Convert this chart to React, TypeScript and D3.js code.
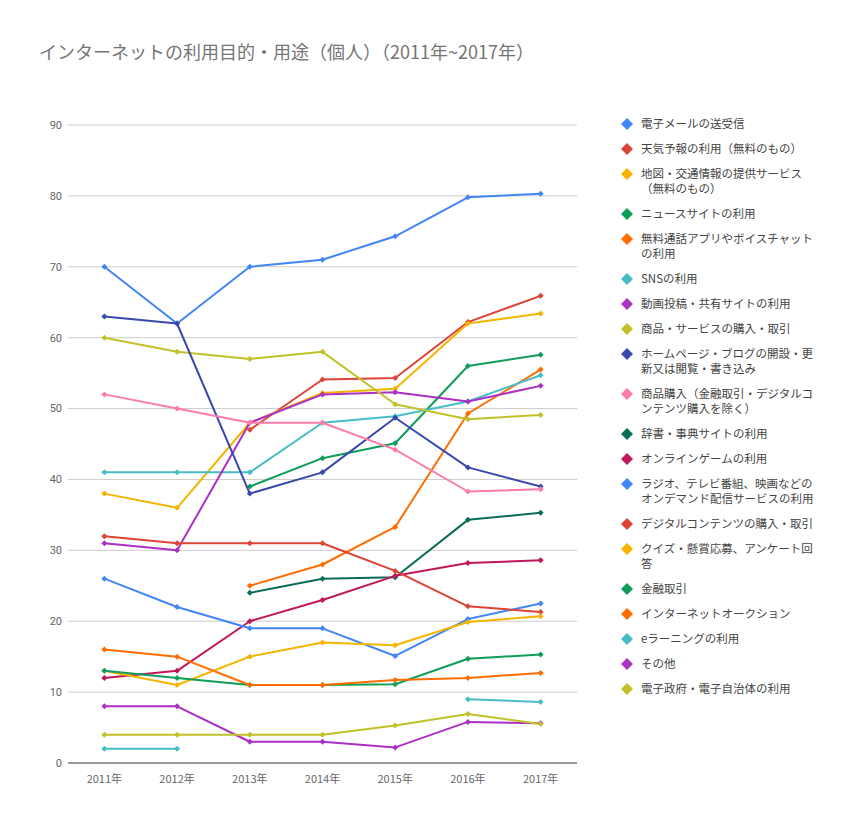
import React from "react";
import * as d3 from "d3";

const years = ["2011年", "2012年", "2013年", "2014年", "2015年", "2016年", "2017年"];
const yTicks = [0, 10, 20, 30, 40, 50, 60, 70, 80, 90];
const title = "インターネットの利用目的・用途（個人）（2011年~2017年）";

const seriesNames = [
  "電子メールの送受信",
  "天気予報の利用（無料のもの）",
  "地図・交通情報の提供サービス\n（無料のもの）",
  "ニュースサイトの利用",
  "無料通話アプリやボイスチャット\nの利用",
  "SNSの利用",
  "動画投稿・共有サイトの利用",
  "商品・サービスの購入・取引",
  "ホームページ・ブログの開設・更\n新又は閲覧・書き込み",
  "商品購入（金融取引・デジタルコ\nンテンツ購入を除く）",
  "辞書・事典サイトの利用",
  "オンラインゲームの利用",
  "ラジオ、テレビ番組、映画などの\nオンデマンド配信サービスの利用",
  "デジタルコンテンツの購入・取引",
  "クイズ・懸賞応募、アンケート回\n答",
  "金融取引",
  "インターネットオークション",
  "eラーニングの利用",
  "その他",
  "電子政府・電子自治体の利用",
];

const email = [70, 62, 70, 71, 74.3, 79.8, 80.3];
const weather = [null, null, 47, 54.1, 54.3, 62.2, 65.9];
const maps = [38, 36, 48, 52.2, 52.8, 62.0, 63.4];
const news = [null, null, 39, 43, 45.1, 56, 57.6];
const voip = [null, null, 25, 28, 33.3, 49.3, 55.5];
const sns = [41, 41, 41, 48, 48.9, 51, 54.7];
const video = [31, 30, 48, 52, 52.3, 51, 53.2];
const shopping = [60, 58, 57, 58, 50.6, 48.5, 49.1];
const homepage = [63, 62, 38, 41, 48.7, 41.7, 39];
const purchase = [52, 50, 48, 48, 44.2, 38.3, 38.6];
const dictionary = [null, null, 24, 26, 26.2, 34.3, 35.3];
const game = [12, 13, 20, 23, 26.4, 28.2, 28.6];
const vod = [26, 22, 19, 19, 15.1, 20.3, 22.5];
const digital = [32, 31, 31, 31, 27.1, 22.1, 21.3];
const quiz = [13, 11, 15, 17, 16.6, 19.9, 20.7];
const finance = [13, 12, 11, 11, 11.1, 14.7, 15.3];
const auction = [16, 15, 11, 11, 11.7, 12, 12.7];
const elearning = [2, 2, null, null, null, 9, 8.6];
const other = [8, 8, 3, 3, 2.2, 5.8, 5.6];
const egov = [4, 4, 4, 4, 5.3, 6.9, 5.5];

const seriesValues: (number | null)[][] = [
  email, weather, maps, news, voip, sns, video, shopping, homepage, purchase,
  dictionary, game, vod, digital, quiz, finance, auction, elearning, other, egov,
];

const palette = [
  "#4285f4", "#db4437", "#f4b400", "#0f9d58", "#ff6d00", "#46bdc6",
  "#ab30c4", "#c2c12a", "#3949ab", "#ff7baa", "#0a6b5a", "#c2185b",
];

const W = 849;
const H = 826;
const plot = { left: 68, right: 577, top: 125, bottom: 763 };

function diamond(cx: number, cy: number, r: number) {
  return `M${cx},${cy - r}L${cx + r},${cy}L${cx},${cy + r}L${cx - r},${cy}Z`;
}

export default function App() {
  const x = d3.scaleBand<string>().domain(years).range([plot.left, plot.right]);
  const y = d3.scaleLinear().domain([0, 90]).range([plot.bottom, plot.top]);
  const cx = (yr: string) => (x(yr) as number) + x.bandwidth() / 2;

  const line = d3
    .line<number | null>()
    .defined((d) => d !== null)
    .x((_, i) => cx(years[i]))
    .y((d) => y(d as number));

  const font = "'Noto Sans CJK JP', 'Noto Sans', sans-serif";

  let ly = 124;
  const legendItems = seriesNames.map((name, i) => {
    const lines = name.split("\n");
    const item = { name, lines, y: ly, color: palette[i % palette.length] };
    ly += 25 + (lines.length - 1) * 15;
    return item;
  });

  return (
    <svg
      width={W}
      height={H}
      style={{ position: "absolute", left: 0, top: 0, background: "#fff" }}
      fontFamily={font}
    >
      <text x={39} y={59} fontSize={18} fill="#757575" fontFamily={font}>
        {title}
      </text>

      {yTicks.map((t) => (
        <g key={t}>
          {t !== 0 && (
            <line x1={plot.left} x2={plot.right} y1={y(t)} y2={y(t)} stroke="#cccccc" strokeWidth={1} />
          )}
          <text
            x={plot.left - 6}
            y={y(t)}
            dy="0.35em"
            textAnchor="end"
            fontSize={11}
            fill="#666"
            fontFamily="Roboto, sans-serif"
          >
            {t}
          </text>
        </g>
      ))}
      <line x1={plot.left} x2={plot.right} y1={y(0)} y2={y(0)} stroke="#333" strokeWidth={1} />

      {years.map((yr) => (
        <text
          key={yr}
          x={cx(yr)}
          y={plot.bottom + 20}
          textAnchor="middle"
          fontSize={11}
          fill="#666"
          fontFamily={font}
        >
          {yr}
        </text>
      ))}

      {seriesValues.map((vals, i) => {
        const color = palette[i % palette.length];
        return (
          <g key={i}>
            <path d={line(vals) || ""} fill="none" stroke={color} strokeWidth={2} strokeLinejoin="round" />
            {vals.map((v, j) =>
              v === null ? null : <path key={j} d={diamond(cx(years[j]), y(v), 3)} fill={color} />
            )}
          </g>
        );
      })}

      {legendItems.map((it, i) => (
        <g key={i}>
          <path d={diamond(627, it.y, 6)} fill={it.color} />
          {it.lines.map((l, k) => (
            <text key={k} x={641} y={it.y + k * 15} dy="0.35em" fontSize={11.5} fill="#444" fontFamily={font}>
              {l}
            </text>
          ))}
        </g>
      ))}
    </svg>
  );
}
